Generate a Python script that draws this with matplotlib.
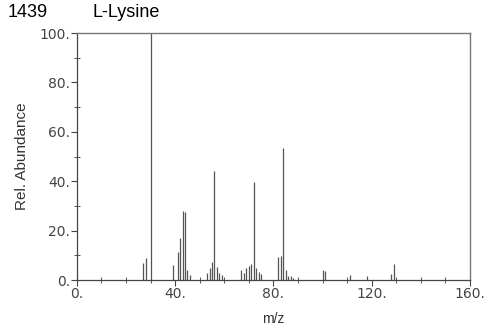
import numpy as np
import matplotlib.pyplot as plt
from matplotlib.ticker import MultipleLocator, FuncFormatter

# peak list (m/z, relative abundance)
mz = [27, 28, 30, 39, 41, 42, 43, 44, 45, 46,
      53, 54, 55, 56, 57, 58, 59,
      67, 68, 69, 70, 71, 72, 73, 74, 75,
      82, 83, 84, 85, 86, 87, 88,
      100, 101, 111, 118, 128, 129]
abundance = [7, 9, 100, 6, 11.5, 17, 28, 27.5, 4, 2,
             3, 4.7, 7.4, 44, 5.4, 3, 2,
             4, 2.7, 4.7, 5.7, 6.5, 39.5, 5, 3.4, 2.5,
             9.4, 9.6, 53.3, 4, 1.5, 1.5, 1,
             4, 3.5, 2, 1.5, 2.4, 6.4]

title_id = "1439"
title_name = "L-Lysine"

fig = plt.figure(figsize=(4.9, 3.31), dpi=100)
ax = fig.add_axes([0.157, 0.154, 0.802, 0.746])

ax.vlines(mz, 0, abundance, color='#555555', linewidth=0.9)

ax.set_xlim(0, 160)
ax.set_ylim(0, 100)

ax.xaxis.set_major_locator(MultipleLocator(40))
ax.xaxis.set_minor_locator(MultipleLocator(10))
ax.yaxis.set_major_locator(MultipleLocator(20))
ax.yaxis.set_minor_locator(MultipleLocator(10))

fmt = FuncFormatter(lambda v, p: f"{int(round(v))}.")
ax.xaxis.set_major_formatter(fmt)
ax.yaxis.set_major_formatter(fmt)

ax.tick_params(which='major', direction='out', length=4, width=0.8,
               color='#444444', labelcolor='#444444', labelsize=10, pad=1)
ax.tick_params(which='minor', direction='inout', length=4, width=0.7,
               color='#555555')

for side in ['left', 'bottom']:
    ax.spines[side].set_color('#444444')
    ax.spines[side].set_linewidth(0.9)
for side in ['top', 'right']:
    ax.spines[side].set_color('#777777')
    ax.spines[side].set_linewidth(1.0)

ax.set_xlabel('m/z', fontsize=10, color='#333333', family='Liberation Sans')
ax.set_ylabel('Rel. Abundance', fontsize=11, color='#333333', family='Liberation Sans')
ax.xaxis.set_label_coords(0.499, -0.128)
ax.yaxis.set_label_coords(-0.122, 0.5)

fig.text(0.016, 0.963, title_id, fontsize=13, family='Liberation Sans', va='center')
fig.text(0.188, 0.963, title_name, fontsize=13, family='Liberation Sans', va='center')

fig.savefig('out.png', dpi=100)
